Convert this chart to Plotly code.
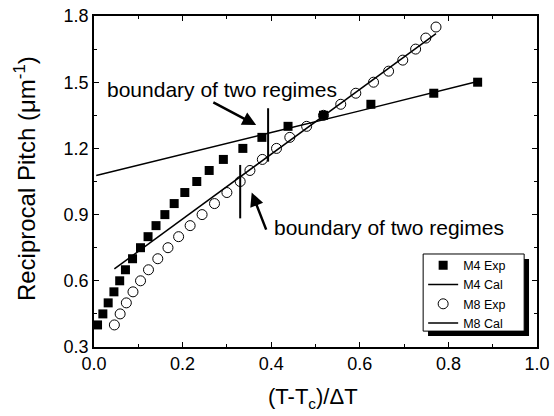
import plotly.graph_objects as go

# M4 experimental
m4_x = [0.008, 0.02, 0.032, 0.045, 0.058, 0.071, 0.087, 0.105, 0.122, 0.14, 0.16, 0.181, 0.205, 0.232,
        0.26, 0.292, 0.336, 0.379, 0.438, 0.518, 0.625, 0.767, 0.866]
m4_y = [0.40, 0.45, 0.50, 0.55, 0.60, 0.65, 0.70, 0.75, 0.80, 0.85, 0.90, 0.95, 1.00, 1.05,
        1.10, 1.15, 1.20, 1.25, 1.30, 1.35, 1.40, 1.45, 1.50]
# M4 calculated
m4c_x = [0.005, 0.2, 0.4, 0.6, 0.87]
m4c_y = [1.077, 1.175, 1.272, 1.37, 1.505]
# M8 experimental
m8_x = [0.046, 0.059, 0.073, 0.088, 0.105, 0.123, 0.144, 0.167, 0.191, 0.217, 0.244, 0.272, 0.30, 0.33,
        0.352, 0.38, 0.412, 0.442, 0.48, 0.518, 0.557, 0.591, 0.631, 0.665, 0.697, 0.726, 0.749, 0.772]
m8_y = [0.40, 0.45, 0.50, 0.55, 0.60, 0.65, 0.70, 0.75, 0.80, 0.85, 0.90, 0.95, 1.00, 1.05,
        1.10, 1.15, 1.20, 1.25, 1.30, 1.35, 1.40, 1.45, 1.50, 1.55, 1.60, 1.65, 1.70, 1.75]
# M8 calculated
m8c_x = [0.046, 0.2, 0.33, 0.518, 0.65, 0.772]
m8c_y = [0.654, 0.88, 1.07, 1.347, 1.54, 1.72]

# boundary markers
b1_x = [0.393, 0.393]
b1_y = [1.14, 1.382]
b2_x = [0.33, 0.33]
b2_y = [0.883, 1.125]

# arrows (tail -> head)
a1_x = [0.266, 0.366]
a1_y = [1.412, 1.306]
a2_x = [0.39, 0.356]
a2_y = [0.825, 1.0]

annot_text = "boundary of two regimes"

font = "Liberation Sans, Arial, sans-serif"

fig = go.Figure()
fig.add_trace(go.Scatter(x=m4_x, y=m4_y, mode="markers", name="M4 Exp",
                         marker=dict(symbol="square", size=9, color="black")))
fig.add_trace(go.Scatter(x=m4c_x, y=m4c_y, mode="lines", name="M4 Cal",
                         line=dict(color="black", width=1.5)))
fig.add_trace(go.Scatter(x=m8_x, y=m8_y, mode="markers", name="M8 Exp",
                         marker=dict(symbol="circle-open", size=10, color="black", line=dict(width=1))))
fig.add_trace(go.Scatter(x=m8c_x, y=m8c_y, mode="lines", name="M8 Cal",
                         line=dict(color="black", width=1.5)))
fig.add_trace(go.Scatter(x=b1_x, y=b1_y, mode="lines", showlegend=False,
                         line=dict(color="black", width=2)))
fig.add_trace(go.Scatter(x=b2_x, y=b2_y, mode="lines", showlegend=False,
                         line=dict(color="black", width=2)))

for ax_, ay_ in ((a1_x, a1_y), (a2_x, a2_y)):
    fig.add_annotation(x=ax_[1], y=ay_[1], ax=ax_[0], ay=ay_[0], xref="x", yref="y", axref="x", ayref="y",
                       text="", showarrow=True, arrowhead=2, arrowsize=1.1, arrowwidth=2.5,
                       arrowcolor="black")

fig.add_annotation(x=0.025, y=1.465, xref="x", yref="y", text=annot_text, showarrow=False,
                   xanchor="left", yanchor="middle", font=dict(family=font, size=21, color="black"))
fig.add_annotation(x=0.401, y=0.84, xref="x", yref="y", text=annot_text, showarrow=False,
                   xanchor="left", yanchor="middle", font=dict(family=font, size=21, color="black"))

# axis titles
fig.add_annotation(x=0.494, y=-0.154, xref="paper", yref="paper", text="(T-T<sub>c</sub>)/ΔT",
                   showarrow=False, xanchor="center", yanchor="middle",
                   font=dict(family=font, size=22, color="black"))
fig.add_annotation(x=-0.156, y=0.51, xref="paper", yref="paper", text="Reciprocal Pitch (μm<sup>-1</sup>)",
                   showarrow=False, xanchor="center", yanchor="middle", textangle=-90,
                   font=dict(family=font, size=24, color="black"))

# legend frame with shadow
fig.add_shape(type="rect", xref="paper", yref="paper", x0=0.754, x1=0.982, y0=0.033, y1=0.266,
              fillcolor="black", line=dict(width=0), layer="above")
fig.add_shape(type="rect", xref="paper", yref="paper", x0=0.743, x1=0.971, y0=0.048, y1=0.281,
              fillcolor="white", line=dict(width=1, color="black"), layer="above")

axis_common = dict(showline=True, linecolor="black", linewidth=1.5, mirror="ticks", ticks="inside",
                   ticklen=5, tickwidth=1, tickcolor="black", showgrid=False, zeroline=False,
                   automargin=False,
                   tickfont=dict(family=font, size=18, color="black"))

fig.update_layout(
    template="none",
    width=554, height=416, autosize=False,
    margin=dict(l=94, r=17, t=16, b=69, pad=0),
    paper_bgcolor="white", plot_bgcolor="white",
    font=dict(family=font, color="black"),
    xaxis=dict(range=[0, 1.0], dtick=0.2, tickformat=".1f",
               minor=dict(dtick=0.1, ticks="inside", ticklen=3, tickcolor="black"),
               **axis_common),
    yaxis=dict(range=[0.3, 1.8], dtick=0.3, tickformat=".1f",
               minor=dict(dtick=0.15, ticks="inside", ticklen=3, tickcolor="black"),
               **axis_common),
    legend=dict(x=0.743, xanchor="left", y=0.291, yanchor="top",
                bgcolor="rgba(0,0,0,0)", borderwidth=0,
                font=dict(family=font, size=12.5, color="black"),
                tracegroupgap=0, itemwidth=30),
    showlegend=True,
)

fig.write_html("out.html", post_script="document.body.style.margin='0';document.body.style.overflow='hidden';")
